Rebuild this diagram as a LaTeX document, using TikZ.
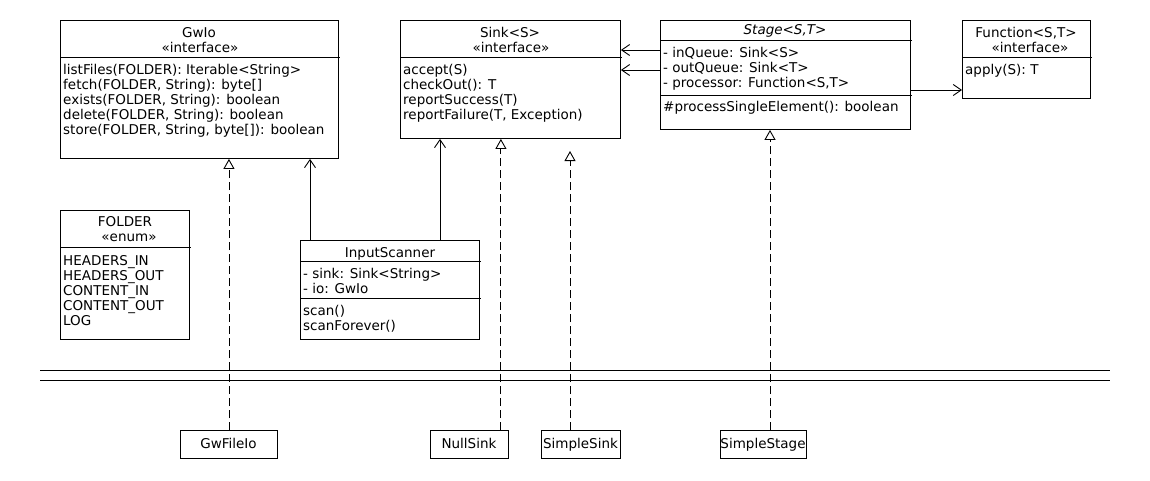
\documentclass[tikz,border=0pt]{standalone}
\usepackage{fontspec}
\setmainfont{DejaVu Sans}
\usetikzlibrary{arrows.meta}

\newcommand{\umlfont}{\fontsize{13.5}{15}\selectfont}

\tikzstyle{classbox} = [draw, line width=0.9pt, anchor=north west, inner sep=0pt]
\tikzstyle{member} = [anchor=base west, inner sep=0pt]
\tikzstyle{heading} = [anchor=base, inner sep=0pt]
\tikzstyle{sep} = [line width=0.9pt]
\tikzstyle{realize} = [line width=0.9pt, dash pattern=on 8pt off 4pt, -{Triangle[open, length=10pt, width=11pt, fill=white]}]
\tikzstyle{assoc} = [line width=0.9pt, -{Straight Barb[length=8pt, width=11pt]}]

\begin{document}
\begin{tikzpicture}[x=1pt, y=-1pt, font=\umlfont]
	\useasboundingbox (0,0) rectangle (1150,480);

	\node[classbox, minimum width=278pt, minimum height=138pt] (gwio) at (60,20) {};
	\node[heading] (gwiot) at (199,37) {GwIo};
	\node[heading] (gwios) at (200,52) {«interface»};
	\draw[sep] (60,57) -- (340,57);
	\node[member] (gwio1) at (63,74) {listFiles(FOLDER): Iterable<String>};
	\node[member] (gwio2) at (63,89) {fetch(FOLDER, String): byte[]};
	\node[member] (gwio3) at (63,104) {exists(FOLDER, String): boolean};
	\node[member] (gwio4) at (63,119) {delete(FOLDER, String): boolean};
	\node[member] (gwio5) at (63,134) {store(FOLDER, String, byte[]): boolean};

	\node[classbox, minimum width=220pt, minimum height=118pt] (sink) at (400,20) {};
	\node[heading] (sinkt) at (510,37) {Sink<S>};
	\node[heading] (sinks) at (511,52) {«interface»};
	\draw[sep] (400,57) -- (622,57);
	\node[member] (sink1) at (403,74) {accept(S)};
	\node[member] (sink2) at (403,89) {checkOut(): T};
	\node[member] (sink3) at (403,104) {reportSuccess(T)};
	\node[member] (sink4) at (403,119) {reportFailure(T, Exception)};

	\node[classbox, minimum width=250pt, minimum height=109pt] (stage) at (660,20) {};
	\node[heading] (staget) at (785,34) {\textit{Stage<S,T>}};
	\draw[sep] (660,40) -- (912,40);
	\node[member] (stage1) at (663,57) {- inQueue: Sink<S>};
	\node[member] (stage2) at (663,72) {- outQueue: Sink<T>};
	\node[member] (stage3) at (663,87) {- processor: Function<S,T>};
	\draw[sep] (660,95) -- (912,95);
	\node[member] (stage4) at (663,111) {\#processSingleElement(): boolean};

	\node[classbox, minimum width=128pt, minimum height=78pt] (function) at (962,20) {};
	\node[heading] (functiont) at (1026,37) {Function<S,T>};
	\node[heading] (functions) at (1030,52) {«interface»};
	\draw[sep] (962,57) -- (1092,57);
	\node[member] (function1) at (965,74) {apply(S): T};

	\node[classbox, minimum width=129pt, minimum height=129pt] (folder) at (60,210) {};
	\node[heading] (foldert) at (125,226) {FOLDER};
	\node[heading] (folders) at (129,241) {«enum»};
	\draw[sep] (60,247) -- (191,247);
	\node[member] (folder1) at (63,265) {HEADERS\_IN};
	\node[member] (folder2) at (63,280) {HEADERS\_OUT};
	\node[member] (folder3) at (63,295) {CONTENT\_IN};
	\node[member] (folder4) at (63,310) {CONTENT\_OUT};
	\node[member] (folder5) at (63,325) {LOG};

	\node[classbox, minimum width=179pt, minimum height=99pt] (scanner) at (300,240) {};
	\node[heading] (scannert) at (390,257) {InputScanner};
	\draw[sep] (300,261) -- (481,261);
	\node[member] (scanner1) at (303,278) {- sink: Sink<String>};
	\node[member] (scanner2) at (303,293) {- io: GwIo};
	\draw[sep] (300,298) -- (481,298);
	\node[member] (scanner3) at (303,315) {scan()};
	\node[member] (scanner4) at (303,330) {scanForever()};

	\draw[line width=0.9pt] (40,370) -- (1110,370);
	\draw[line width=0.9pt] (40,380) -- (1110,380);

	\node[classbox, minimum width=97pt, minimum height=28pt] (gwfileio) at (180,430) {};
	\node[heading] (gwfileiot) at (228.5,448) {GwFileIo};
	\node[classbox, minimum width=78pt, minimum height=28pt] (nullsink) at (430,430) {};
	\node[heading] (nullsinkt) at (469,448) {NullSink};
	\node[classbox, minimum width=79pt, minimum height=28pt] (simplesink) at (541,430) {};
	\node[heading] (simplesinkt) at (580.5,448) {SimpleSink};
	\node[classbox, minimum width=86pt, minimum height=28pt] (simplestage) at (720,430) {};
	\node[heading] (simplestaget) at (763,448) {SimpleStage};

	\coordinate (inq) at (660,50);
	\coordinate (outq) at (660,70);
	\coordinate (proc) at (910,90);
	\coordinate (simplesinkend) at (570,151);

	\draw[assoc] (inq) -- (inq -| sink.east);
	\draw[assoc] (outq) -- (outq -| sink.east);
	\draw[assoc] (proc) -- (proc -| function.west);

	\draw[assoc] ([xshift=10pt]scanner.north west) -- ([xshift=10pt]scanner.north west |- gwio.south);
	\draw[assoc] ([xshift=140pt]scanner.north west) -- ([xshift=140pt]scanner.north west |- sink.south);

	\draw[realize] (gwfileio.north) -- (gwfileio.north |- gwio.south);
	\draw[realize] ([xshift=-8pt]nullsink.north east) -- ([xshift=-8pt]nullsink.north east |- sink.south);
	\draw[realize] ([xshift=29pt]simplesink.north west) -- (simplesinkend);
	\draw[realize] ([xshift=50pt]simplestage.north west) -- ([xshift=50pt]simplestage.north west |- stage.south);
\end{tikzpicture}
\end{document}
